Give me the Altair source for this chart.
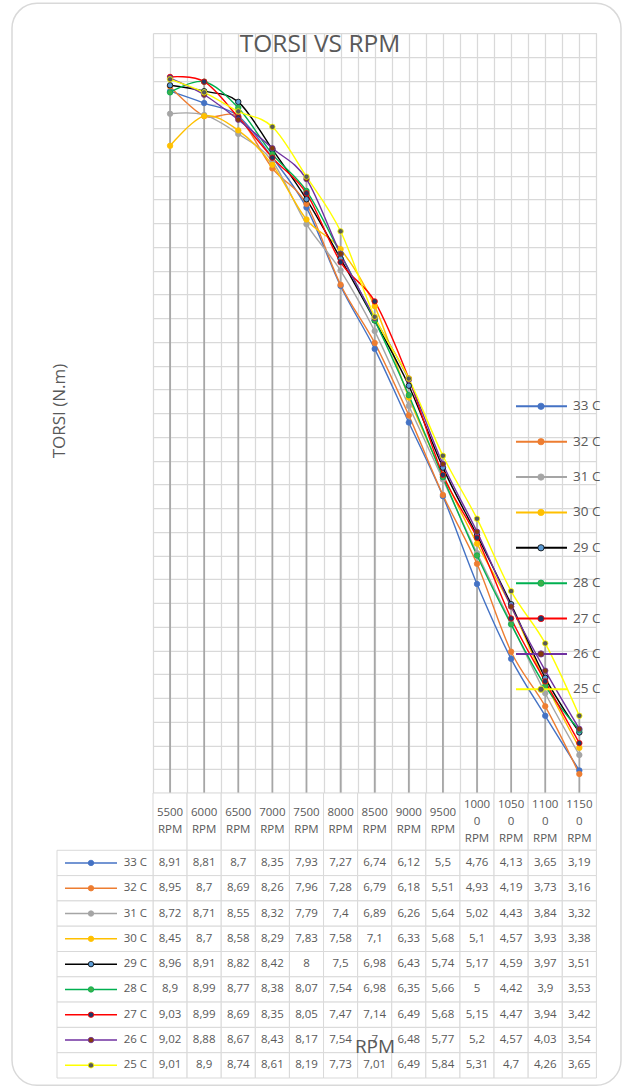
import altair as alt
import pandas as pd

# ---------------- data ----------------
rpm = [5500, 6000, 6500, 7000, 7500, 8000, 8500, 9000, 9500, 10000, 10500, 11000, 11500]
series = ["33 C", "32 C", "31 C", "30 C", "29 C", "28 C", "27 C", "26 C", "25 C"]

t33 = [8.91, 8.81, 8.7, 8.35, 7.93, 7.27, 6.74, 6.12, 5.5, 4.76, 4.13, 3.65, 3.19]
t32 = [8.95, 8.7, 8.69, 8.26, 7.96, 7.28, 6.79, 6.18, 5.51, 4.93, 4.19, 3.73, 3.16]
t31 = [8.72, 8.71, 8.55, 8.32, 7.79, 7.4, 6.89, 6.26, 5.64, 5.02, 4.43, 3.84, 3.32]
t30 = [8.45, 8.7, 8.58, 8.29, 7.83, 7.58, 7.1, 6.33, 5.68, 5.1, 4.57, 3.93, 3.38]
t29 = [8.96, 8.91, 8.82, 8.42, 8.0, 7.5, 6.98, 6.43, 5.74, 5.17, 4.59, 3.97, 3.51]
t28 = [8.9, 8.99, 8.77, 8.38, 8.07, 7.54, 6.98, 6.35, 5.66, 5.0, 4.42, 3.9, 3.53]
t27 = [9.03, 8.99, 8.69, 8.35, 8.05, 7.47, 7.14, 6.49, 5.68, 5.15, 4.47, 3.94, 3.42]
t26 = [9.02, 8.88, 8.67, 8.43, 8.17, 7.54, 7.0, 6.48, 5.77, 5.2, 4.57, 4.03, 3.54]
t25 = [9.01, 8.9, 8.74, 8.61, 8.19, 7.73, 7.01, 6.49, 5.84, 5.31, 4.7, 4.26, 3.65]
torque = [t33, t32, t31, t30, t29, t28, t27, t26, t25]

line_colors = ["#4472C4", "#ED7D31", "#A5A5A5", "#FFC000", "#000000",
               "#00B050", "#FF0000", "#7030A0", "#FFFF00"]
marker_fills = ["#4472C4", "#ED7D31", "#A5A5A5", "#FFC000", "#5B9BD5",
                "#3CB04A", "#1F3864", "#843C0C", "#595959"]

title_text = "TORSI VS RPM"
y_title = "TORSI (N.m)"
x_title = "RPM"


def fmt(v):
    return f"{v:g}".replace(".", ",")


def hdr(r):
    s = str(r)
    if len(s) > 4:
        s = s[:4] + "\n" + s[4:]
    return s + "\nRPM"


rows = []
for s, vals in zip(series, torque):
    for r, v in zip(rpm, vals):
        rows.append({"series": s, "rpm": r, "torque": v, "label": fmt(v)})
df = pd.DataFrame(rows)
hdr_labels = [hdr(r) for r in rpm]
hdr_df = pd.DataFrame({"rpm": rpm, "hlabel": hdr_labels,
                       "nlines": [h.count("\n") + 1 for h in hdr_labels]})
leg_df = pd.DataFrame({"series": series})
one = pd.DataFrame({"k": [0]})

# ---------------- styling ----------------
FONT = "Open Sans"
TXT = "#595959"
GRID = "#D9D9D9"
W, H = 443.4, 760

step = rpm[1] - rpm[0]
x_lo, x_hi = rpm[0] - step / 2, rpm[-1] + step / 2
y_lo, y_hi = 3.0, 9.4

x_grid = [x_lo + k * step / 2 for k in range(2 * len(rpm) + 1)]
y_grid = [round(y_lo + 0.2 * k, 2) for k in range(33)]

x_scale = alt.Scale(domain=[x_lo, x_hi], nice=False, zero=False)
y_scale = alt.Scale(domain=[y_lo, y_hi], nice=False, zero=False)
stroke_scale = alt.Scale(domain=series, range=line_colors)
fill_scale = alt.Scale(domain=series, range=marker_fills)

x_axis = alt.Axis(values=x_grid, grid=True, gridColor=GRID, gridWidth=1.25,
                  labels=False, ticks=False, domain=False, title=None)
y_axis = alt.Axis(values=y_grid, grid=True, gridColor=GRID, gridWidth=1.25,
                  labels=False, ticks=False, domain=False, title=None)

X = alt.X("rpm:Q", scale=x_scale, axis=x_axis)
Y = alt.Y("torque:Q", scale=y_scale, axis=y_axis)
STROKE = alt.Stroke("series:N", scale=stroke_scale, legend=None)
FILL = alt.Fill("series:N", scale=fill_scale, legend=None)

# ---------------- plot ----------------
border = alt.Chart(one).mark_rect(
    fill="white", fillOpacity=0, stroke=GRID, strokeWidth=1.5, cornerRadius=25
).encode(x=alt.value(-141), x2=alt.value(468), y=alt.value(-29.7), y2=alt.value(1052.3))

drops = alt.Chart(df).transform_aggregate(
    top="max(torque)", groupby=["rpm"]
).mark_rule(color="#A6A6A6", strokeWidth=1.75).encode(
    x=X, y=alt.Y("top:Q", scale=y_scale, axis=y_axis), y2=alt.datum(y_lo)
)

lines = alt.Chart(df).mark_line(interpolate="cardinal", strokeWidth=1.4).encode(
    x=X, y=Y, stroke=STROKE
)
points = alt.Chart(df).mark_point(
    shape="circle", filled=True, size=30, strokeWidth=0.8, opacity=1
).encode(x=X, y=Y, fill=FILL, stroke=STROKE)

plot_group = alt.layer(drops, lines, points)

# ---------------- legend (right, overlay) ----------------
LY = alt.Y("series:N", scale=alt.Scale(type="point", domain=series, range=[373.3, 656.3], padding=0), axis=None)
leg_lines = alt.Chart(leg_df).mark_rule(strokeWidth=2).encode(
    x=alt.value(363), x2=alt.value(414), y=LY, stroke=STROKE)
leg_pts = alt.Chart(leg_df).mark_point(
    shape="circle", filled=True, size=40, strokeWidth=0.8, opacity=1
).encode(x=alt.value(388), y=LY, fill=FILL, stroke=STROKE)
leg_txt = alt.Chart(leg_df).mark_text(
    align="left", baseline="middle", font=FONT, fontSize=13.5, color=TXT
).encode(x=alt.value(420), y=LY, text="series:N")
legend_group = alt.layer(leg_lines, leg_pts, leg_txt)

# ---------------- data table ----------------
TY = alt.Y("series:N", scale=alt.Scale(type="band", domain=series, range=[817.3, 1045],
                                       paddingInner=0, paddingOuter=0), axis=None)
cells = alt.Chart(df).transform_calculate(
    x0=f"datum.rpm - {step / 2}", x1=f"datum.rpm + {step / 2}"
).mark_rect(fill="white", stroke=GRID, strokeWidth=1).encode(
    x=alt.X("x0:Q", scale=x_scale, axis=x_axis), x2="x1:Q", y=TY)
cell_txt = alt.Chart(df).mark_text(
    align="center", baseline="middle", font=FONT, fontSize=11.5, color=TXT
).encode(x=X, y=TY, text="label:N")

lcells = alt.Chart(leg_df).mark_rect(fill="white", stroke=GRID, strokeWidth=1).encode(
    x=alt.value(-96), x2=alt.value(0), y=TY)
lrule = alt.Chart(leg_df).mark_rule(strokeWidth=1.5).encode(
    x=alt.value(-88), x2=alt.value(-36), y=TY, stroke=STROKE)
lpts = alt.Chart(leg_df).mark_point(
    shape="circle", filled=True, size=30, strokeWidth=0.8, opacity=1
).encode(x=alt.value(-62), y=TY, fill=FILL, stroke=STROKE)
ltxt = alt.Chart(leg_df).mark_text(
    align="right", baseline="middle", font=FONT, fontSize=11.5, color=TXT
).encode(x=alt.value(-6), y=TY, text="series:N")

hcells = alt.Chart(hdr_df).transform_calculate(
    x0=f"datum.rpm - {step / 2}", x1=f"datum.rpm + {step / 2}"
).mark_rect(fill="white", stroke=GRID, strokeWidth=1).encode(
    x=alt.X("x0:Q", scale=x_scale, axis=x_axis), x2="x1:Q",
    y=alt.value(760), y2=alt.value(817.3))
htxt_base = alt.Chart(hdr_df).mark_text(
    align="center", baseline="middle", font=FONT, fontSize=11.5, color=TXT,
    lineBreak="\n", lineHeight=16.7
)
htxt2 = htxt_base.transform_filter("datum.nlines == 2").encode(
    x=X, y=alt.value(780.3), text="hlabel:N")
htxt3 = htxt_base.transform_filter("datum.nlines == 3").encode(
    x=X, y=alt.value(772.3), text="hlabel:N")

table_group = alt.layer(hcells, cells, lcells, htxt2, htxt3, cell_txt, lrule, lpts, ltxt)

# ---------------- titles ----------------
title = alt.Chart(one).mark_text(
    text=title_text, font=FONT, fontSize=24.5, color=TXT, align="center", baseline="alphabetic"
).encode(x=alt.value(167), y=alt.value(18.5))
ytitle = alt.Chart(one).mark_text(
    text=y_title, font=FONT, fontSize=17, color=TXT, align="center", baseline="middle", angle=270
).encode(x=alt.value(-93), y=alt.value(378))
xtitle = alt.Chart(one).mark_text(
    text=x_title, font=FONT, fontSize=19, color=TXT, align="center", baseline="alphabetic"
).encode(x=alt.value(222), y=alt.value(1020.5))
titles = alt.layer(title, ytitle, xtitle)

chart = alt.layer(border, plot_group, legend_group, table_group, titles).resolve_scale(
    y="independent"
).properties(
    width=W, height=H, background="white",
    padding={"left": 11, "top": 2, "right": 0, "bottom": 0}
).configure_view(strokeWidth=0)

chart.save("out.html", embed_options={"renderer": "svg", "actions": False})
